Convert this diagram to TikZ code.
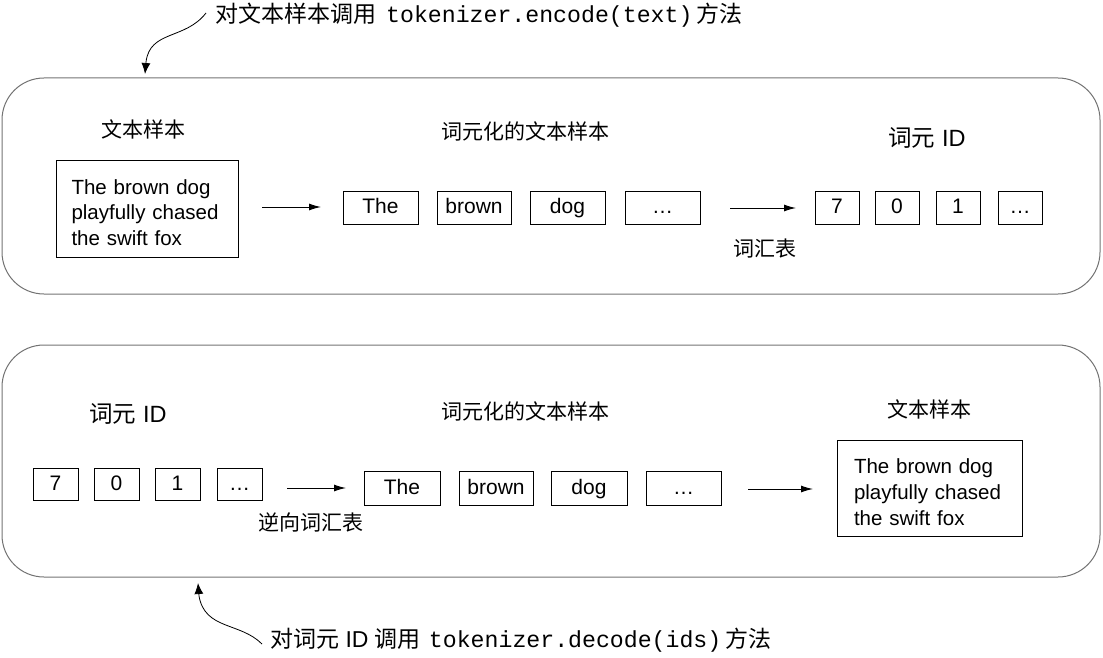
\documentclass[tikz,border=0pt]{standalone}
\usepackage{fontspec}
\setmainfont{Liberation Sans}
\setmonofont{Liberation Mono}
\newfontfamily\cjk{Noto Sans CJK SC}
\usetikzlibrary{arrows.meta}
\begin{document}
\begin{tikzpicture}[x=1pt,y=-1pt,
  panel/.style={draw=black!55,line width=1pt,rounded corners=42pt},
  tok/.style={draw,line width=0.9pt,minimum height=33pt,inner sep=0pt,text height=16pt,text depth=4pt,font=\fontsize{21}{22}\selectfont},
  txtbox/.style={draw,line width=0.9pt,align=left,inner sep=0pt,font=\fontsize{20.5}{25.7}\selectfont},
  lbl/.style={font=\fontsize{21}{22}\selectfont\cjk,inner sep=0pt},
  biglbl/.style={font=\fontsize{23.5}{25}\selectfont,inner sep=0pt},
  note/.style={font=\fontsize{23}{25}\selectfont,inner sep=0pt,anchor=west},
  flow/.style={-{Latex[length=12pt,width=7pt]},line width=1pt},
  callout/.style={-{Latex[length=11pt,width=9pt]},line width=0.8pt}]
\useasboundingbox (0,0) rectangle (1103,658);
% panels
\node[panel,minimum width=1098pt,minimum height=216pt] (top) at (551,186) {};
\node[panel,minimum width=1098pt,minimum height=232pt] (bot) at (551,461) {};
% ---- top panel ----
\node[lbl] (t1) at (143,129) {文本样本};
\node[txtbox,minimum width=182pt,minimum height=97pt,text width=151pt] (tsrc) at (147,208.5) {\rule{0pt}{23pt}The brown dog\\playfully chased\\the swift fox};
\node[lbl] (t2) at (525,131) {词元化的文本样本};
\node[tok,minimum width=75pt] (tA) at (380.5,207.5) {The};
\node[tok,minimum width=74pt] (tB) at (474,207.5) {brown};
\node[tok,minimum width=75pt] (tC) at (567.5,207.5) {dog};
\node[tok,minimum width=75pt] (tD) at (662.5,207.5) {…};
\node[biglbl] (t3) at (927,138) {{\cjk 词元} ID};
\node[tok,minimum width=44pt] (i1) at (837,207.5) {7};
\node[tok,minimum width=44pt] (i2) at (897,207.5) {0};
\node[tok,minimum width=44pt] (i3) at (958,207.5) {1};
\node[tok,minimum width=44pt] (i4) at (1020,207.5) {…};
\coordinate (a1s) at (262,207); \coordinate (a1e) at (321,207);
\draw[flow] (a1s) -- (a1e);
\coordinate (a2s) at (730,208); \coordinate (a2e) at (796,208);
\draw[flow] (a2s) -- (a2e);
\node[lbl] (v1) at (765,249) {词汇表};
% ---- bottom panel ----
\node[biglbl] (b1) at (128,414) {{\cjk 词元} ID};
\node[tok,minimum width=45pt,minimum height=32pt] (j1) at (55.5,484) {7};
\node[tok,minimum width=45pt,minimum height=32pt] (j2) at (116.5,484) {0};
\node[tok,minimum width=45pt,minimum height=32pt] (j3) at (177.5,484) {1};
\node[tok,minimum width=45pt,minimum height=32pt] (j4) at (239.5,484) {…};
\coordinate (b1s) at (287,488); \coordinate (b1e) at (346,488);
\draw[flow] (b1s) -- (b1e);
\node[lbl] (v2) at (311,522) {逆向词汇表};
\node[lbl] (b2) at (525,411) {词元化的文本样本};
\node[tok,minimum width=76pt,minimum height=34pt] (sA) at (402,488) {The};
\node[tok,minimum width=74pt,minimum height=34pt] (sB) at (496,488) {brown};
\node[tok,minimum width=76pt,minimum height=34pt] (sC) at (589,488) {dog};
\node[tok,minimum width=75pt,minimum height=34pt] (sD) at (683.5,488) {…};
\coordinate (b2s) at (748,489); \coordinate (b2e) at (813,489);
\draw[flow] (b2s) -- (b2e);
\node[lbl] (b3) at (929,409) {文本样本};
\node[txtbox,minimum width=185pt,minimum height=96pt,text width=151pt] (bdst) at (929.5,488) {\rule{0pt}{23pt}The brown dog\\playfully chased\\the swift fox};
% ---- annotations ----
\node[note] (n1) at (215,15) {{\cjk 对文本样本调用}\hspace{10pt}{\fontsize{23.2}{25}\selectfont\ttfamily tokenizer.encode(text)}\hspace{4pt}{\cjk 方法}};
\coordinate (n1s) at (206,13);
\coordinate (n1e) at (145,74);
\draw[callout] (n1s) .. controls (185,40) and (150,30) .. (146,62) -- (n1e);
\node[note] (n2) at (270,640) {{\cjk 对词元} ID {\cjk 调用}\hspace{8pt}{\fontsize{23.2}{25}\selectfont\ttfamily tokenizer.decode(ids)}\hspace{4pt}{\cjk 方法}};
\coordinate (n2s) at (262,644);
\coordinate (n2e) at (198,583);
\draw[callout] (n2s) .. controls (240,622) and (205,630) .. (199,596) -- (n2e);
\end{tikzpicture}
\end{document}
